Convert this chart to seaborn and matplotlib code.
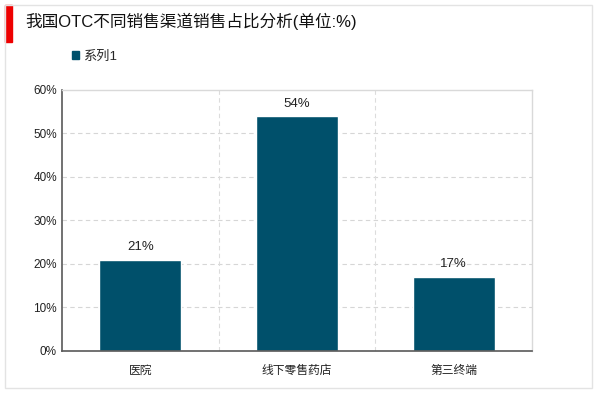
import matplotlib
matplotlib.use("Agg")
import matplotlib.pyplot as plt
import matplotlib.patches as mpatches
import seaborn as sns
import pandas as pd
from matplotlib.ticker import PercentFormatter

# data
categories = ["医院", "线下零售药店", "第三终端"]
shares = [21, 54, 17]
y_ticks = [0, 10, 20, 30, 40, 50, 60]

df = pd.DataFrame({"渠道": categories, "占比": shares})

sns.set_style("white")
plt.rcParams["font.family"] = ["Liberation Sans", "Noto Sans CJK SC", "DejaVu Sans"]

fig = plt.figure(figsize=(6, 3.93), dpi=100)
ax = fig.add_axes([0.103, 0.107, 0.784, 0.664])

bar_color = "#00506b"
sns.barplot(data=df, x="渠道", y="占比", color=bar_color, width=0.52, ax=ax,
            saturation=1)

ax.set_ylim(0, 60)
ax.set_xlim(-0.5, 2.5)
ax.set_yticks(y_ticks)
ax.yaxis.set_major_formatter(PercentFormatter(decimals=0))
ax.set_xlabel("")
ax.set_ylabel("")
ax.tick_params(axis="both", length=0, labelsize=8.5, colors="#222222")
ax.tick_params(axis="x", pad=10)

# dashed grid
for y in y_ticks[1:-1]:
    ax.axhline(y, color="#d6d6d6", linestyle=(0, (4, 3)), linewidth=0.8, zorder=0)
for x in [0.5, 1.5]:
    ax.axvline(x, color="#dcdcdc", linestyle=(0, (4, 3)), linewidth=0.8, zorder=0)

for side in ["top", "right"]:
    ax.spines[side].set_color("#d9d9d9")
    ax.spines[side].set_linewidth(1)
for side in ["left", "bottom"]:
    ax.spines[side].set_color("#595959")
    ax.spines[side].set_linewidth(1.2)

for i, v in enumerate(shares):
    ax.text(i, v + 1.5, f"{v}%", ha="center", va="bottom", fontsize=9.5, color="#222222")

# legend
handle = mpatches.Patch(color=bar_color, label="系列1")
fig.legend(handles=[handle], loc="center left", bbox_to_anchor=(0.1, 0.855),
           frameon=False, fontsize=9.5, handlelength=0.55, handleheight=0.55,
           handletextpad=0.3)

# title and decorations
fig.text(0.042, 0.945, "我国OTC不同销售渠道销售占比分析(单位:%)", fontsize=12,
         va="center", ha="left", color="#111111")
fig.add_artist(mpatches.Rectangle((0.008, 0.893), 0.012, 0.095,
                                  transform=fig.transFigure, color="#ee0000"))
fig.add_artist(mpatches.Rectangle((0.008, 0.013), 0.978, 0.975,
                                  transform=fig.transFigure, fill=False,
                                  edgecolor="#e3e3e3", linewidth=1))

fig.savefig("out.png", dpi=100)
